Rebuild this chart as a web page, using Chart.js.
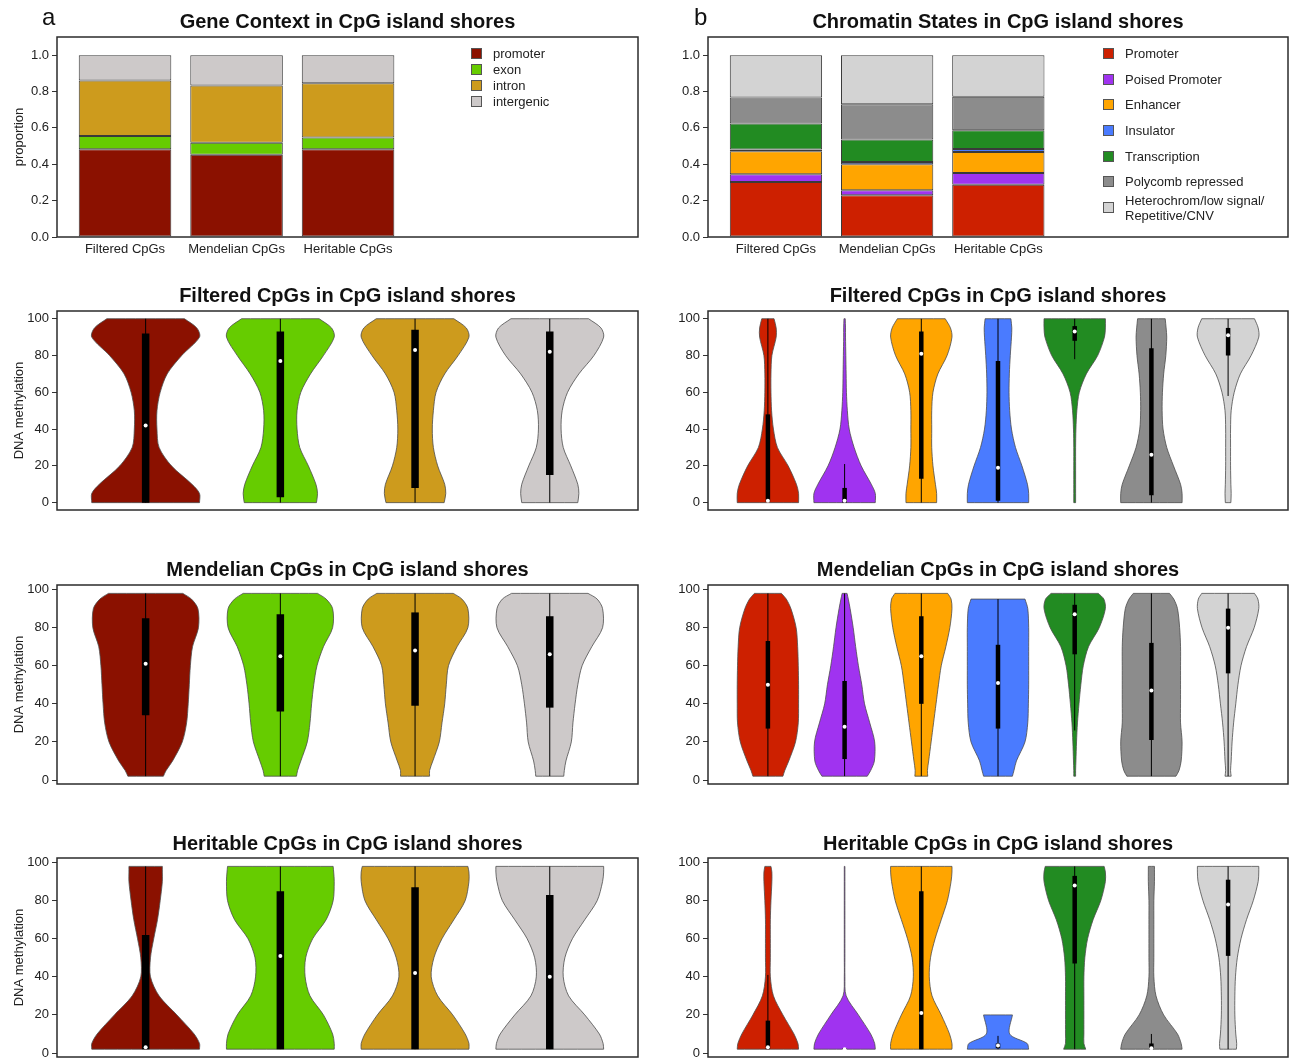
<!DOCTYPE html>
<html>
<head>
<meta charset="utf-8">
<script src="https://cdn.jsdelivr.net/npm/chart.js@4.4.1/dist/chart.umd.min.js"></script>
<style>
  html, body { margin: 0; padding: 0; background: #fff; }
  body { width: 1293px; height: 1058px; overflow: hidden; position: relative;
         font-family: 'Liberation Sans', Arial, sans-serif; color: #222; }
  .txt { position: absolute; white-space: nowrap; }
  .title { font-weight: bold; font-size: 20px; line-height: 20px; color: #111; transform: translateX(-50%); }
  .letter { font-size: 24px; line-height: 24px; color: #111; }
  .leg { position: absolute; font-size: 13px; line-height: 15px; display: flex; align-items: center; }
  .leg i { display: inline-block; width: 9px; height: 9px; border: 1px solid #555; margin-right: 11px; }
</style>
</head>
<body>
<script>
// ---- data ----
const groups = ['Filtered CpGs', 'Mendelian CpGs', 'Heritable CpGs']

const geneCategories = ['promoter', 'exon', 'intron', 'intergenic']
const geneColors = ['#8B1100', '#66CC00', '#CD9B1D', '#CDC9C9']
const geneProportions = [
  [0.483, 0.453, 0.483],
  [0.073, 0.066, 0.064],
  [0.305, 0.314, 0.299],
  [0.139, 0.167, 0.154],
]

const stateCategories = ['Promoter', 'Poised Promoter', 'Enhancer', 'Insulator', 'Transcription',
  'Polycomb repressed', 'Heterochrom/low signal/\nRepetitive/CNV']
const stateColors = ['#CD2000', '#A033F0', '#FFA500', '#4A7BFF', '#228B22', '#8C8C8C', '#D3D3D3']
const stateProportions = [
  [0.303, 0.229, 0.288],
  [0.042, 0.028, 0.064],
  [0.127, 0.143, 0.116],
  [0.009, 0.013, 0.016],
  [0.143, 0.123, 0.103],
  [0.143, 0.194, 0.184],
  [0.233, 0.270, 0.229],
]

const propTicks = [0, 0.2, 0.4, 0.6, 0.8, 1.0]
const methTicks = [0, 20, 40, 60, 80, 100]

// violin half-widths (1 = widest) read at these methylation levels
const levelsFull = [0, 5, 10, 20, 30, 40, 50, 60, 70, 80, 90, 95, 100]
const levelsTrim = [2, 5, 10, 20, 30, 40, 50, 60, 70, 80, 90, 95, 98]

// stats per violin: [whisker low, q1, median, q3, whisker high]
const filteredGeneWidths = [
  [1.0, 1.0, 0.86, 0.48, 0.25, 0.21, 0.21, 0.27, 0.40, 0.67, 1.0, 0.95, 0.72],
  [0.67, 0.69, 0.66, 0.52, 0.36, 0.31, 0.31, 0.38, 0.56, 0.80, 1.0, 0.95, 0.72],
  [0.54, 0.57, 0.55, 0.42, 0.34, 0.32, 0.34, 0.39, 0.55, 0.80, 1.0, 0.95, 0.72],
  [0.52, 0.54, 0.52, 0.39, 0.25, 0.21, 0.23, 0.33, 0.54, 0.82, 1.0, 0.95, 0.72],
]
const filteredGeneStats = [[0, 0, 42, 92, 100], [0, 3, 77, 93, 100], [0, 8, 83, 94, 100], [0, 15, 82, 93, 100]]

const filteredStateWidths = [
  [1.0, 1.0, 0.93, 0.66, 0.31, 0.18, 0.12, 0.10, 0.10, 0.13, 0.27, 0.27, 0.20],
  [1.0, 1.0, 0.87, 0.54, 0.31, 0.15, 0.09, 0.06, 0.05, 0.04, 0.03, 0.03, 0.02],
  [0.50, 0.50, 0.46, 0.38, 0.34, 0.34, 0.34, 0.38, 0.54, 0.84, 1.0, 0.95, 0.78],
  [1.0, 1.0, 0.96, 0.78, 0.57, 0.44, 0.38, 0.36, 0.37, 0.40, 0.44, 0.45, 0.42],
  [0.03, 0.03, 0.03, 0.03, 0.03, 0.04, 0.07, 0.15, 0.38, 0.75, 0.97, 1.0, 1.0],
  [1.0, 1.0, 0.95, 0.72, 0.50, 0.38, 0.35, 0.36, 0.40, 0.47, 0.50, 0.48, 0.45],
  [0.09, 0.10, 0.09, 0.08, 0.08, 0.08, 0.10, 0.20, 0.40, 0.75, 1.0, 0.98, 0.86],
]
const filteredStateStats = [[0, 0.5, 1, 48, 100], [0, 0, 1, 8, 21], [0, 13, 81, 93, 100], [0, 1, 19, 77, 100],
  [78, 88, 93, 96, 100], [0, 4, 26, 84, 100], [58, 80, 91, 95, 100]]

const mendelianGeneWidths = [
  [0.33, 0.38, 0.50, 0.68, 0.76, 0.79, 0.81, 0.83, 0.87, 0.98, 0.97, 0.85, 0.69],
  [0.30, 0.32, 0.38, 0.50, 0.55, 0.58, 0.62, 0.68, 0.80, 0.97, 0.97, 0.85, 0.69],
  [0.27, 0.27, 0.33, 0.45, 0.50, 0.55, 0.58, 0.62, 0.78, 0.98, 0.98, 0.87, 0.71],
  [0.26, 0.27, 0.30, 0.40, 0.43, 0.47, 0.52, 0.60, 0.78, 0.98, 0.98, 0.88, 0.71],
]
const mendelianGeneStats = [[2, 34, 61, 85, 98], [2, 36, 65, 87, 98], [2, 39, 68, 88, 98], [2, 38, 66, 86, 98]]

const mendelianStateWidths = [
  [0.49, 0.55, 0.68, 0.90, 0.99, 1.0, 1.0, 0.99, 0.97, 0.92, 0.75, 0.60, 0.44],
  [0.74, 0.85, 0.97, 0.98, 0.82, 0.65, 0.56, 0.45, 0.36, 0.28, 0.18, 0.12, 0.08],
  [0.21, 0.20, 0.24, 0.32, 0.40, 0.48, 0.56, 0.65, 0.80, 0.93, 1.0, 0.97, 0.86],
  [0.47, 0.52, 0.60, 0.88, 0.97, 0.99, 1.0, 1.0, 1.0, 1.0, 0.97, 0.88, null],
  [0.03, 0.03, 0.04, 0.06, 0.09, 0.14, 0.20, 0.28, 0.45, 0.80, 1.0, 0.95, 0.77],
  [0.80, 0.90, 0.97, 1.0, 0.95, 0.95, 0.95, 0.95, 0.95, 0.92, 0.85, 0.73, 0.59],
  [0.10, 0.08, 0.10, 0.13, 0.18, 0.25, 0.32, 0.42, 0.60, 0.85, 1.0, 0.97, 0.86],
]
const mendelianStateStats = [[2, 27, 50, 73, 98], [2, 11, 28, 52, 98], [2, 40, 65, 86, 98], [2, 27, 51, 71, 95],
  [26, 66, 87, 92, 98], [2, 21, 47, 72, 98], [2, 56, 80, 90, 98]]

const heritableGeneWidths = [
  [1.0, 1.0, 0.90, 0.58, 0.25, 0.09, 0.09, 0.15, 0.22, 0.27, 0.31, 0.31, 0.31],
  [1.0, 1.0, 0.97, 0.80, 0.55, 0.46, 0.47, 0.60, 0.85, 0.98, 1.0, 0.99, 0.98],
  [1.0, 1.0, 0.93, 0.70, 0.42, 0.30, 0.35, 0.50, 0.72, 0.93, 1.0, 1.0, 0.98],
  [1.0, 0.99, 0.92, 0.65, 0.35, 0.25, 0.28, 0.42, 0.65, 0.88, 0.98, 1.0, 1.0],
]
const heritableGeneStats = [[2, 2, 3, 62, 98], [2, 2, 51, 85, 98], [2, 2, 42, 87, 98], [2, 2, 40, 83, 98]]

const heritableStateWidths = [
  [1.0, 0.98, 0.85, 0.49, 0.18, 0.08, 0.08, 0.08, 0.08, 0.10, 0.13, 0.13, 0.10],
  [1.0, 0.98, 0.85, 0.45, 0.05, 0.01, 0.01, 0.01, 0.01, 0.01, 0.01, 0.01, 0.01],
  [1.0, 1.0, 0.92, 0.65, 0.35, 0.26, 0.30, 0.45, 0.65, 0.85, 0.97, 1.0, 1.0],
  [1.0, 0.95, 0.38, 0.47, null, null, null, null, null, null, null, null, null],
  [0.36, 0.30, 0.30, 0.30, 0.30, 0.30, 0.33, 0.42, 0.60, 0.85, 1.0, 1.0, 0.96],
  [1.0, 0.97, 0.85, 0.40, 0.15, 0.08, 0.08, 0.08, 0.08, 0.08, 0.10, 0.10, 0.10],
  [0.27, 0.28, 0.25, 0.22, 0.22, 0.24, 0.30, 0.42, 0.60, 0.82, 0.98, 1.0, 1.0],
]
const heritableStateStats = [[2, 2, 3, 17, 41], [2, 2, 2, 2.5, 2.5], [2, 2, 21, 85, 98], [2, 2.5, 4, 5, 9],
  [2, 47, 88, 93, 98], [2, 2, 2.5, 5, 10], [2, 51, 78, 91, 98]]

// ---- layout / style ----
const FONT = "'Liberation Sans', Arial, sans-serif"
const PAD_T = 12, PAD_B = 12, PAD_R = 5
const YW_L = 57, YW_R = 63
const HALF = 0.4   // violin half width in x units

const framePlugin = {
  id: 'frame',
  afterDraw(chart) {
    const { ctx, chartArea: a } = chart
    ctx.save()
    ctx.strokeStyle = '#2b2b2b'
    ctx.lineWidth = 1.5
    ctx.strokeRect(a.left, a.top, a.right - a.left, a.bottom - a.top)
    ctx.restore()
  },
}

function makeCanvas(f, yw, xh) {
  const c = document.createElement('canvas')
  const w = yw + (f.r - f.l) + PAD_R
  const h = PAD_T + (f.b - f.t) + Math.max(xh, PAD_B)
  c.width = w; c.height = h
  c.style.cssText = `position:absolute;left:${f.l - yw}px;top:${f.t - PAD_T}px;width:${w}px;height:${h}px`
  document.body.appendChild(c)
  return c
}

function yAxis(min, max, ticks, fmt, yw, title) {
  return {
    type: 'linear', min, max,
    afterFit: s => { s.width = yw },
    afterBuildTicks: s => { s.ticks = ticks.map(v => ({ value: v })) },
    grid: { drawOnChartArea: false, drawTicks: true, tickLength: 5, color: '#333' },
    border: { display: false },
    ticks: { color: '#222', font: { size: 13, family: FONT }, padding: 3, callback: fmt },
    title: title
      ? { display: true, text: title, color: '#222', font: { size: 13, family: FONT }, padding: { top: 12, bottom: 0 } }
      : { display: false },
  }
}

function baseOptions(scales) {
  return {
    responsive: false, animation: false, devicePixelRatio: 1, events: [],
    layout: { padding: { top: PAD_T, right: PAD_R, left: 0, bottom: 0 } },
    plugins: { legend: { display: false }, tooltip: { enabled: false } },
    scales,
  }
}

function stackedBars(frame, yw, xMin, xMax, cats, colors, props, yTitle) {
  const canvas = makeCanvas(frame, yw, 30)
  const datasets = cats.map((name, k) => ({
    label: name,
    data: props[k].map((v, i) => ({ x: i + 1, y: v })),
    backgroundColor: colors[k],
    borderColor: '#3a3a3a',
    borderWidth: 1,
    borderSkipped: false,
    categoryPercentage: 1,
    barPercentage: 0.83,
  }))
  new Chart(canvas, {
    type: 'bar',
    data: { datasets },
    options: baseOptions({
      x: {
        type: 'linear', min: xMin, max: xMax, stacked: true, offset: false,
        afterFit: s => { s.height = 30 },
        afterBuildTicks: s => { s.ticks = groups.map((g, i) => ({ value: i + 1 })) },
        grid: { display: false, drawTicks: false, offset: false },
        border: { display: false },
        ticks: { color: '#222', font: { size: 13, family: FONT }, padding: 5, maxRotation: 0, autoSkip: false,
          callback: v => groups[v - 1] },
      },
      y: Object.assign(yAxis(0, 1.1, propTicks, v => v.toFixed(1), yw, yTitle), { stacked: true }),
    }),
    plugins: [framePlugin],
  })
}

function violinOutline(levels, w, c) {
  const idx = levels.map((_, i) => i).filter(i => w[i] != null)
  const bot = idx[0], top = idx[idx.length - 1]
  const pts = []
  for (let k = idx.length - 1; k >= 0; k--) pts.push({ x: c - w[idx[k]] * HALF, y: levels[idx[k]] })
  pts.push({ x: c - w[bot] * HALF, y: levels[bot] })
  pts.push({ x: c + w[bot] * HALF, y: levels[bot] })
  for (const i of idx) pts.push({ x: c + w[i] * HALF, y: levels[i] })
  pts.push({ x: c + w[top] * HALF, y: levels[top] })
  pts.push({ x: c - w[top] * HALF, y: levels[top] })
  return pts
}

function violins(frame, yw, yMin, yMax, xMin, xMax, levels, widths, stats, colors, boxW, yTitle) {
  const canvas = makeCanvas(frame, yw, 0)
  const datasets = []
  widths.forEach((w, j) => {
    const c = j + 1
    const [lo, q1, med, q3, hi] = stats[j]
    datasets.push({ data: violinOutline(levels, w, c), showLine: true, fill: 'shape', backgroundColor: colors[j],
      borderColor: '#4d4d4d', borderWidth: 0.8, pointRadius: 0, tension: 0.3, order: 3 })
    datasets.push({ data: [{ x: c, y: lo }, { x: c, y: hi }], showLine: true, borderColor: '#000',
      borderWidth: 1, pointRadius: 0, order: 2 })
    datasets.push({ data: [{ x: c, y: q1 }, { x: c, y: q3 }], showLine: true, borderColor: '#000',
      borderWidth: boxW, borderCapStyle: 'butt', pointRadius: 0, order: 1 })
    datasets.push({ data: [{ x: c, y: med }], showLine: false, pointRadius: 2, pointBackgroundColor: '#fff',
      pointBorderWidth: 0, order: 0 })
  })
  const opts = baseOptions({
    x: { type: 'linear', min: xMin, max: xMax, display: false },
    y: yAxis(yMin, yMax, methTicks, v => String(v), yw, yTitle),
  })
  opts.layout.padding.bottom = PAD_B
  new Chart(canvas, { type: 'scatter', data: { datasets }, options: opts, plugins: [framePlugin] })
}

function addText(text, cls, x, y) {
  const d = document.createElement('div')
  d.className = 'txt ' + cls
  d.textContent = text
  d.style.left = x + 'px'
  d.style.top = y + 'px'
  document.body.appendChild(d)
}

function legend(names, colors, x, y0, step) {
  names.forEach((n, k) => {
    const d = document.createElement('div')
    d.className = 'leg'
    const lines = n.split('\n')
    const cy = y0 + k * step
    d.style.left = x + 'px'
    d.style.top = (cy - 7.5 * lines.length) + 'px'
    const sw = document.createElement('i')
    sw.style.background = colors[k]
    const t = document.createElement('span')
    t.style.whiteSpace = 'pre'
    t.textContent = n
    d.appendChild(sw); d.appendChild(t)
    document.body.appendChild(d)
  })
}

// ---- panels ----
const L = { l: 57, r: 638 }, R = { l: 708, r: 1288 }
const rows = [
  { t: 37, b: 237 }, { t: 310.5, b: 510 }, { t: 584.5, b: 784 }, { t: 857.5, b: 1057 },
]
const fr = (side, row) => ({ l: side.l, r: side.r, t: rows[row].t, b: rows[row].b })

stackedBars(fr(L, 0), YW_L, 0.39, 5.6, geneCategories, geneColors, geneProportions, 'proportion')
stackedBars(fr(R, 0), YW_R, 0.389, 5.605, stateCategories, stateColors, stateProportions, null)

violins(fr(L, 1), YW_L, -4, 104.2, 0.342, 4.655, levelsFull, filteredGeneWidths, filteredGeneStats, geneColors, 7.5, 'DNA methylation')
violins(fr(R, 1), YW_R, -4, 104.2, 0.219, 7.781, levelsFull, filteredStateWidths, filteredStateStats, stateColors, 4.5, null)
violins(fr(L, 2), YW_L, -2.1, 102.4, 0.342, 4.655, levelsTrim, mendelianGeneWidths, mendelianGeneStats, geneColors, 7.5, 'DNA methylation')
violins(fr(R, 2), YW_R, -2.1, 102.4, 0.219, 7.781, levelsTrim, mendelianStateWidths, mendelianStateStats, stateColors, 4.5, null)
violins(fr(L, 3), YW_L, -2.1, 102.4, 0.342, 4.655, levelsTrim, heritableGeneWidths, heritableGeneStats, geneColors, 7.5, 'DNA methylation')
violins(fr(R, 3), YW_R, -2.1, 102.4, 0.219, 7.781, levelsTrim, heritableStateWidths, heritableStateStats, stateColors, 4.5, null)

// titles and labels
addText('a', 'letter', 42, 5)
addText('b', 'letter', 694, 5)
addText('Gene Context in CpG island shores', 'title', 347.5, 11.4)
addText('Chromatin States in CpG island shores', 'title', 998, 11.4)
const rowTitleTops = [284.8, 558.8, 832.8]
groups.forEach((g, i) => {
  addText(g + ' in CpG island shores', 'title', 347.5, rowTitleTops[i])
  addText(g + ' in CpG island shores', 'title', 998, rowTitleTops[i])
})

legend(geneCategories, geneColors, 471, 53.3, 16)
legend(stateCategories, stateColors, 1103, 53.3, 25.7)
</script>
</body>
</html>
